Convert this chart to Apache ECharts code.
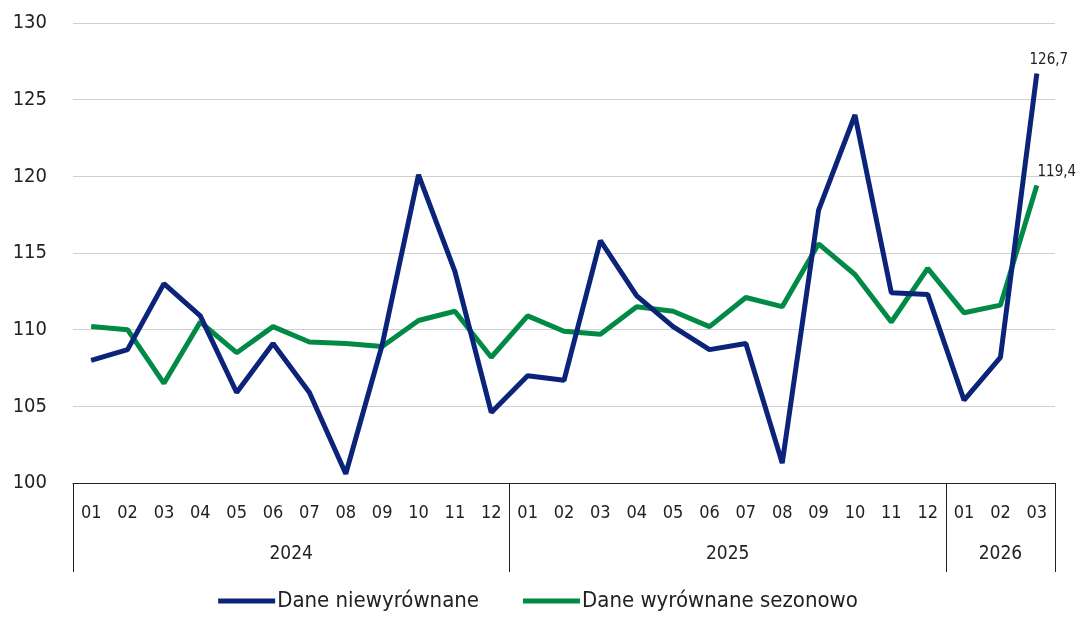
<!DOCTYPE html>
<html>
<head>
<meta charset="utf-8">
<script src="https://cdn.jsdelivr.net/npm/echarts@6/dist/echarts.min.js"></script>
<style>
  html, body { margin: 0; padding: 0; background: #fff; }
  #chart { width: 1076px; height: 619px; }
</style>
</head>
<body>
<div id="chart"></div>
<script>
const months = [
  '01','02','03','04','05','06','07','08','09','10','11','12',
  '01','02','03','04','05','06','07','08','09','10','11','12',
  '01','02','03'
];
const years = ['2024', '2025', '2026'];
const monthsPerYear = [12, 12, 3];
const rawData = [
  108.0, 108.7, 113.0, 110.9, 105.9, 109.1, 105.9, 100.6, 109.0, 120.1, 113.8, 104.6,
  107.0, 106.7, 115.8, 112.2, 110.2, 108.7, 109.1, 101.3, 117.8, 124.0, 112.4, 112.3,
  105.4, 108.2, 126.7
];
const adjustedData = [
  110.2, 110.0, 106.5, 110.5, 108.5, 110.2, 109.2, 109.1, 108.9, 110.6, 111.2, 108.2,
  110.9, 109.9, 109.7, 111.5, 111.2, 110.2, 112.1, 111.5, 115.6, 113.6, 110.5, 114.0,
  111.1, 111.6, 119.4
];
const yTicks = { min: 100, max: 130, interval: 5 };

const FONT = '"Liberation Sans Narrow", "DejaVu Sans Condensed", sans-serif';
const BLUE = '#0b2479';
const GREEN = '#008a45';

// year boundaries and centres on a 0..N value scale
const bounds = [0];
const centres = [];
monthsPerYear.forEach((n) => {
  const start = bounds[bounds.length - 1];
  centres.push(start + n / 2);
  bounds.push(start + n);
});

const fmt = (v) => String(v.toFixed(1)).replace('.', ',');

function withLastLabel(data, offset) {
  return data.map((v, i) => i === data.length - 1
    ? { value: v, label: { show: true, position: 'top', offset, formatter: (p) => fmt(p.value) } }
    : v);
}

const chart = echarts.init(document.getElementById('chart'));
chart.setOption({
  backgroundColor: '#fff',
  animation: false,
  textStyle: { fontFamily: FONT },
  grid: { left: 73, right: 21, top: 23, bottom: 136 },
  legend: {
    bottom: 2,
    left: 'center',
    itemWidth: 57,
    itemHeight: 5,
    itemGap: 44,
    icon: 'rect',
    textStyle: { fontFamily: FONT, fontSize: 22, color: '#222', padding: [0, 0, 0, -3] },
    data: ['Dane niewyrównane', 'Dane wyrównane sezonowo']
  },
  xAxis: [
    {
      type: 'category',
      data: months,
      boundaryGap: true,
      axisLine: { lineStyle: { color: '#222', width: 1 } },
      axisTick: { show: false },
      axisLabel: { color: '#222', fontSize: 18, margin: 21, interval: 0, fontFamily: FONT }
    },
    {
      type: 'value',
      position: 'bottom',
      min: 0,
      max: bounds[bounds.length - 1],
      splitLine: { show: false },
      axisLine: { show: false },
      axisTick: { show: true, customValues: bounds, length: 89, lineStyle: { color: '#222', width: 1 } },
      axisLabel: {
        customValues: centres,
        margin: 62,
        color: '#222',
        fontSize: 19,
        fontFamily: FONT,
        formatter: (v) => years[centres.indexOf(v)] || ''
      }
    }
  ],
  yAxis: {
    type: 'value',
    min: yTicks.min,
    max: yTicks.max,
    interval: yTicks.interval,
    axisLine: { show: false },
    axisTick: { show: false },
    axisLabel: { color: '#222', fontSize: 20, margin: 26, fontFamily: FONT },
    splitLine: { lineStyle: { color: '#d0d0d0', width: 1 } }
  },
  series: [
    {
      name: 'Dane niewyrównane',
      type: 'line',
      xAxisIndex: 0,
      data: withLastLabel(rawData, [12, 0]),
      symbol: 'circle',
      symbolSize: 1,
      lineStyle: { color: BLUE, width: 5 },
      itemStyle: { color: BLUE },
      label: { color: '#222', fontSize: 15, fontFamily: FONT },
      z: 3
    },
    {
      name: 'Dane wyrównane sezonowo',
      type: 'line',
      xAxisIndex: 0,
      data: withLastLabel(adjustedData, [20, 0]),
      symbol: 'circle',
      symbolSize: 1,
      lineStyle: { color: GREEN, width: 5 },
      itemStyle: { color: GREEN },
      label: { color: '#222', fontSize: 15, fontFamily: FONT },
      z: 2
    }
  ]
});
</script>
</body>
</html>
